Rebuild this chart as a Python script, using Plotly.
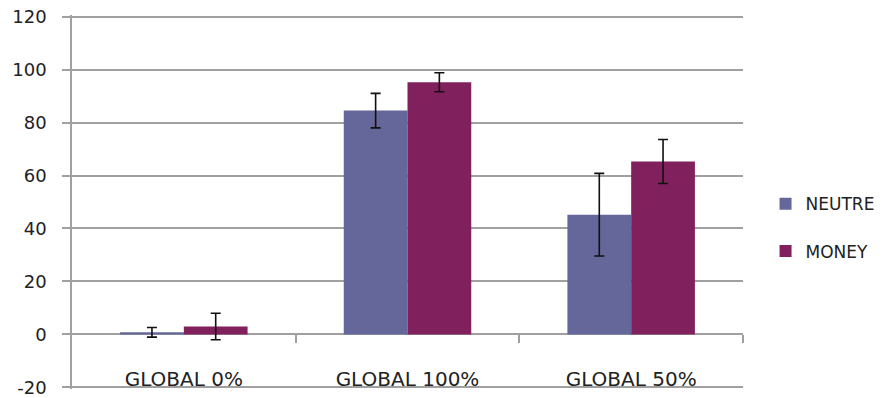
import plotly.graph_objects as go

categories = ["GLOBAL 0%", "GLOBAL 100%", "GLOBAL 50%"]
neutre = [0.8, 84.5, 45.2]
neutre_err = [1.8, 6.5, 15.6]
money = [3.0, 95.2, 65.3]
money_err = [5.0, 3.6, 8.3]
y_ticks = [-20, 0, 20, 40, 60, 80, 100, 120]
y_tick_labels = ["-20", "0", "20", "40", "60", "80", "100", "120"]
y_range = [-20.6, 120.6]

font = "DejaVu Sans"
grid = "#A0A0A0"
def ypos(v):
    return (v - y_range[0]) / (y_range[1] - y_range[0])

fig = go.Figure()
fig.add_trace(go.Bar(
    name="NEUTRE", x=categories, y=neutre, legendgroup="a",
    marker=dict(color="#65679A", line=dict(width=0)),
    error_y=dict(type="data", array=neutre_err, color="#111111", thickness=1.6, width=5),
))
fig.add_trace(go.Bar(
    name="MONEY", x=categories, y=money, legendgroup="b",
    marker=dict(color="#80205C", line=dict(width=0)),
    error_y=dict(type="data", array=money_err, color="#111111", thickness=1.6, width=5),
))
# empty helper trace so the category-boundary tick axis on the zero line gets drawn
fig.add_trace(go.Scatter(x=[None], y=[None], xaxis="x2", yaxis="y",
                         showlegend=False, hoverinfo="skip"))

n = len(categories)
fig.update_layout(
    width=884, height=398,
    margin=dict(l=72, r=141, t=15, b=9),
    plot_bgcolor="white", paper_bgcolor="white",
    barmode="group", bargap=0.43, bargroupgap=0,
    font=dict(family=font, size=18, color="#222222"),
    legend=dict(xref="container", yref="container", x=0.866, y=0.532,
                xanchor="left", yanchor="top",
                font=dict(size=17, color="#222222"),
                tracegroupgap=22, itemwidth=30, bgcolor="rgba(0,0,0,0)"),
    showlegend=True,
    xaxis=dict(anchor="free", position=ypos(-11.6), showgrid=False, showline=False,
               zeroline=False, ticks="", automargin=False,
               tickfont=dict(size=20, color="#222222")),
    xaxis2=dict(overlaying="x", anchor="free", position=ypos(0),
                range=[-0.5, n - 0.5], tickvals=[i + 0.5 for i in range(n)],
                ticks="outside", ticklen=8, tickwidth=1.5, tickcolor=grid,
                showticklabels=False, showgrid=False, showline=False, zeroline=False),
)
fig.update_yaxes(
    range=y_range, tickvals=y_ticks, ticktext=y_tick_labels,
    showgrid=True, gridcolor=grid, gridwidth=1.5,
    zeroline=True, zerolinecolor=grid, zerolinewidth=1.5,
    showline=True, linecolor=grid, linewidth=1.5,
    ticks="outside", ticklen=8, tickcolor=grid, tickwidth=1.5,
    tickfont=dict(size=18, color="#222222"), ticklabelstandoff=12, automargin=False,
)

fig.write_html("out.html", config={"displayModeBar": False},
               post_script="document.body.style.margin='0px';")
